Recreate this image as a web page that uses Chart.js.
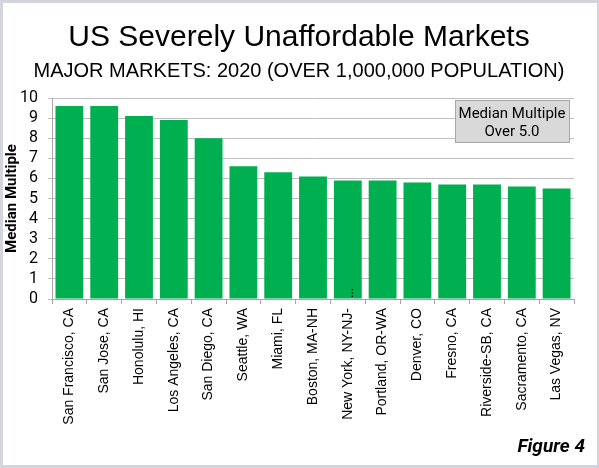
<!DOCTYPE html>
<html>
<head>
<meta charset="utf-8">
<script src="https://cdn.jsdelivr.net/npm/chart.js@4.4.1/dist/chart.umd.min.js"></script>
<style>
  html, body { margin: 0; padding: 0; background: #d4d4dc; }
  #wrap { position: absolute; left: 0; top: 0; width: 599px; height: 468px; }
  canvas { display: block; }
</style>
</head>
<body>
<div id="wrap"><canvas id="c" width="599" height="468"></canvas></div>
<script>
const categories = ["San Francisco, CA", "San Jose, CA", "Honolulu, HI", "Los Angeles, CA", "San Diego, CA", "Seattle, WA", "Miami, FL", "Boston, MA-NH", "New York, NY-NJ-", "Portland, OR-WA", "Denver, CO", "Fresno, CA", "Riverside-SB, CA", "Sacramento, CA", "Las Vegas, NV"];
const medianMultiple = [9.6, 9.6, 9.1, 8.9, 8.0, 6.6, 6.3, 6.1, 5.9, 5.9, 5.8, 5.7, 5.7, 5.6, 5.5];
const yTicks = [0, 1, 2, 3, 4, 5, 6, 7, 8, 9, 10];
const titleText = "US Severely Unaffordable Markets";
const subtitleText = "MAJOR MARKETS: 2020 (OVER 1,000,000 POPULATION)";
const legendLines = ["Median Multiple", "Over 5.0"];
const figureText = "Figure 4";
const yAxisTitle = "Median Multiple";

const decor = {
  id: 'decor',
  beforeDraw(chart) {
    const ctx = chart.ctx;
    ctx.save();
    ctx.fillStyle = '#d4d4dc';
    ctx.fillRect(0, 0, 599, 468);
    ctx.fillStyle = '#ffffff';
    ctx.fillRect(3, 3, 594, 462);
    ctx.restore();
  },
  afterDraw(chart) {
    const ctx = chart.ctx;
    ctx.save();
    ctx.fillStyle = '#000';
    ctx.textAlign = 'center';
    ctx.textBaseline = 'alphabetic';
    ctx.font = '30px "Liberation Sans", Arial, sans-serif';
    ctx.fillText(titleText, 299, 46);
    ctx.font = '20px "Liberation Sans", Arial, sans-serif';
    ctx.fillText(subtitleText, 299, 77);
    // legend box
    const bx = 455, by = 100, bw = 114, bh = 42;
    ctx.fillStyle = '#d9d9d9';
    ctx.fillRect(bx, by, bw, bh);
    ctx.strokeStyle = '#a6a6a6';
    ctx.lineWidth = 1;
    ctx.strokeRect(bx + 0.5, by + 0.5, bw, bh);
    ctx.fillStyle = '#000';
    ctx.font = '15px Roboto, sans-serif';
    ctx.fillText(legendLines[0], bx + bw / 2, by + 18);
    ctx.fillText(legendLines[1], bx + bw / 2, by + 36);
    // figure label
    ctx.textAlign = 'right';
    ctx.font = 'italic bold 19px Roboto, sans-serif';
    ctx.fillText(figureText, 585, 452);
    // ellipsis of truncated label
    const xs = chart.scales.x;
    const px = xs.getPixelForValue(8);
    ctx.translate(px + 1, 298);
    ctx.rotate(-Math.PI / 2);
    ctx.textAlign = 'left';
    ctx.textBaseline = 'middle';
    ctx.font = '12px "Liberation Sans", Arial, sans-serif';
    ctx.fillText('...', 0, 1);
    ctx.restore();
  }
};

new Chart(document.getElementById('c'), {
  type: 'bar',
  data: {
    labels: categories,
    datasets: [{
      data: medianMultiple,
      backgroundColor: '#00b050',
      borderWidth: 0,
      barPercentage: 0.8,
      categoryPercentage: 1.0
    }]
  },
  options: {
    responsive: false,
    animation: false,
    devicePixelRatio: 1,
    layout: { padding: { left: 0, top: 98, right: 25, bottom: 0 } },
    plugins: {
      legend: { display: false },
      tooltip: { enabled: false },
      title: { display: false }
    },
    scales: {
      x: {
        afterFit(scale) { scale.height = 169; },
        grid: { display: true, drawOnChartArea: false, drawTicks: true, tickLength: 5, color: '#a6a6a6', offset: true },
        border: { display: true, color: '#a6a6a6' },
        ticks: {
          autoSkip: false,
          maxRotation: 90,
          minRotation: 90,
          padding: 4,
          color: '#000',
          font: { family: '"Liberation Sans", Arial, sans-serif', size: 14 }
        }
      },
      y: {
        min: 0,
        max: 10,
        afterFit(scale) { scale.width = 52; },
        afterBuildTicks(scale) { scale.ticks = yTicks.map(v => ({ value: v })); },
        grid: { color: '#bfbfbf', tickLength: 4, drawTicks: true },
        border: { display: true, color: '#a6a6a6' },
        ticks: {
          stepSize: 1,
          autoSkip: false,
          padding: 10,
          color: '#000',
          font: { family: 'Roboto, sans-serif', size: 16 }
        },
        title: {
          display: true,
          text: yAxisTitle,
          color: '#000',
          font: { family: 'Roboto, sans-serif', size: 15, weight: 'bold' },
          padding: { top: 3, bottom: 0 }
        }
      }
    }
  },
  plugins: [decor]
});
</script>
</body>
</html>
